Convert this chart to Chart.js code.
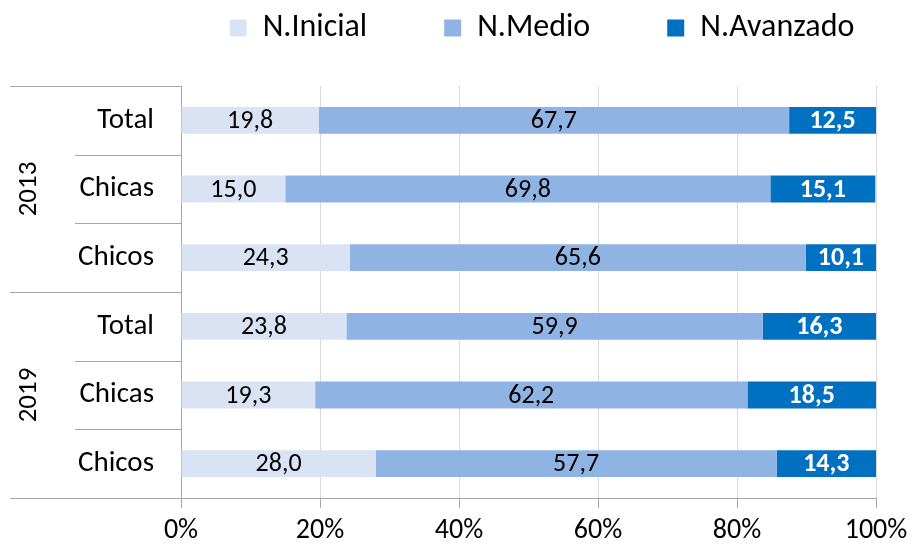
<!DOCTYPE html>
<html>
<head>
<meta charset="utf-8">
<script src="https://cdn.jsdelivr.net/npm/chart.js@4/dist/chart.umd.min.js"></script>
<style>
html,body{margin:0;padding:0;background:#fff;}
#wrap{width:912px;height:548px;}
</style>
</head>
<body>
<div id="wrap"><canvas id="c" width="912" height="548"></canvas></div>
<script>
const categories = ['Total', 'Chicas', 'Chicos', 'Total', 'Chicas', 'Chicos'];
const years = ['2013', '2019'];
const groupSize = 3;
const seriesNames = ['N.Inicial', 'N.Medio', 'N.Avanzado'];
const inicial = [19.8, 15.0, 24.3, 23.8, 19.3, 28.0];
const medio = [67.7, 69.8, 65.6, 59.9, 62.2, 57.7];
const avanzado = [12.5, 15.1, 10.1, 16.3, 18.5, 14.3];
const xTickValues = [0, 20, 40, 60, 80, 100];

const FONT = 'Carlito, Calibri, Lato, sans-serif';
const LINE = '#A6A6A6';
const LEGEND_PAD = 77;
const LEGEND_SHIFT = 104;

const fmt = v => v.toFixed(1).replace('.', ',');

const legendHeightPlugin = {
  id: 'legendHeight',
  afterInit(chart) {
    const lg = chart.legend;
    if (lg && !lg._patched) {
      const orig = lg.fit;
      lg.fit = function () { orig.call(this); this.height = 86; };
      lg._patched = true;
    }
  },
  afterLayout(chart) {
    const lg = chart.legend;
    if (lg) {
      lg.top = 12 - LEGEND_PAD;
      lg.left += LEGEND_SHIFT;
      lg.right += LEGEND_SHIFT;
    }
  }
};

const axisDecor = {
  id: 'axisDecor',
  afterDraw(chart) {
    const ctx = chart.ctx;
    const y = chart.scales.y;
    const ca = chart.chartArea;
    const n = categories.length;
    const bounds = [];
    for (let i = 0; i <= n; i++) {
      if (i === 0) bounds.push(ca.top);
      else if (i === n) bounds.push(ca.bottom);
      else bounds.push((y.getPixelForValue(i - 1) + y.getPixelForValue(i)) / 2);
    }
    ctx.save();
    ctx.strokeStyle = LINE;
    ctx.lineWidth = 1;
    for (let i = 0; i <= n; i++) {
      const yy = Math.round(bounds[i]) + 0.5;
      const x0 = (i % groupSize === 0) ? 10 : 75;
      ctx.beginPath();
      ctx.moveTo(x0, yy);
      ctx.lineTo(ca.left, yy);
      ctx.stroke();
    }
    ctx.fillStyle = '#000';
    ctx.font = '27px ' + FONT;
    ctx.textAlign = 'center';
    ctx.textBaseline = 'middle';
    years.forEach((yr, g) => {
      const cy = (bounds[g * groupSize] + bounds[(g + 1) * groupSize]) / 2;
      ctx.save();
      ctx.translate(29, cy);
      ctx.rotate(-Math.PI / 2);
      ctx.fillText(yr, 0, 0);
      ctx.restore();
    });
    ctx.restore();
  }
};

const barLabels = {
  id: 'barLabels',
  afterDatasetsDraw(chart) {
    const ctx = chart.ctx;
    ctx.save();
    ctx.textAlign = 'center';
    ctx.textBaseline = 'middle';
    chart.data.datasets.forEach((ds, di) => {
      const meta = chart.getDatasetMeta(di);
      ctx.fillStyle = di === 2 ? '#FFFFFF' : '#000000';
      ctx.font = (di === 2 ? 'bold ' : '') + '26px ' + FONT;
      meta.data.forEach((bar, i) => {
        const cx = (bar.x + bar.base) / 2;
        ctx.fillText(fmt(ds.data[i]), cx, bar.y + 1);
      });
    });
    ctx.restore();
  }
};

new Chart(document.getElementById('c'), {
  type: 'bar',
  data: {
    labels: categories,
    datasets: [
      { label: seriesNames[0], data: inicial, backgroundColor: '#DAE3F3' },
      { label: seriesNames[1], data: medio, backgroundColor: '#8FB4E3' },
      { label: seriesNames[2], data: avanzado, backgroundColor: '#0070C0' }
    ]
  },
  options: {
    indexAxis: 'y',
    responsive: false,
    animation: false,
    layout: { padding: { left: 0, right: 36, top: 0, bottom: 0 } },
    datasets: { bar: { categoryPercentage: 1, barPercentage: 0.39 } },
    plugins: {
      legend: {
        position: 'top',
        align: 'center',
        labels: {
          boxWidth: 17, boxHeight: 17, padding: LEGEND_PAD, color: '#000',
          font: { family: FONT, size: 32 }
        }
      },
      tooltip: { enabled: false }
    },
    scales: {
      x: {
        stacked: true,
        min: 0, max: 100,
        afterBuildTicks(s) { s.ticks = xTickValues.map(v => ({ value: v })); },
        ticks: {
          callback: v => v + '%', color: '#000', padding: 6,
          font: { family: FONT, size: 28 }, maxRotation: 0
        },
        grid: { color: '#D9D9D9', tickColor: LINE, tickLength: 10, drawTicks: true },
        border: { display: true, color: LINE },
        afterFit(s) { s.height = 50; s.paddingRight = 0; s.paddingLeft = 0; }
      },
      y: {
        stacked: true,
        offset: true,
        ticks: { color: '#000', padding: 27, font: { family: FONT, size: 29 } },
        grid: { display: false, drawTicks: false },
        border: { display: true, color: LINE },
        afterFit(s) { s.width = 181; }
      }
    }
  },
  plugins: [legendHeightPlugin, axisDecor, barLabels]
});
</script>
</body>
</html>
